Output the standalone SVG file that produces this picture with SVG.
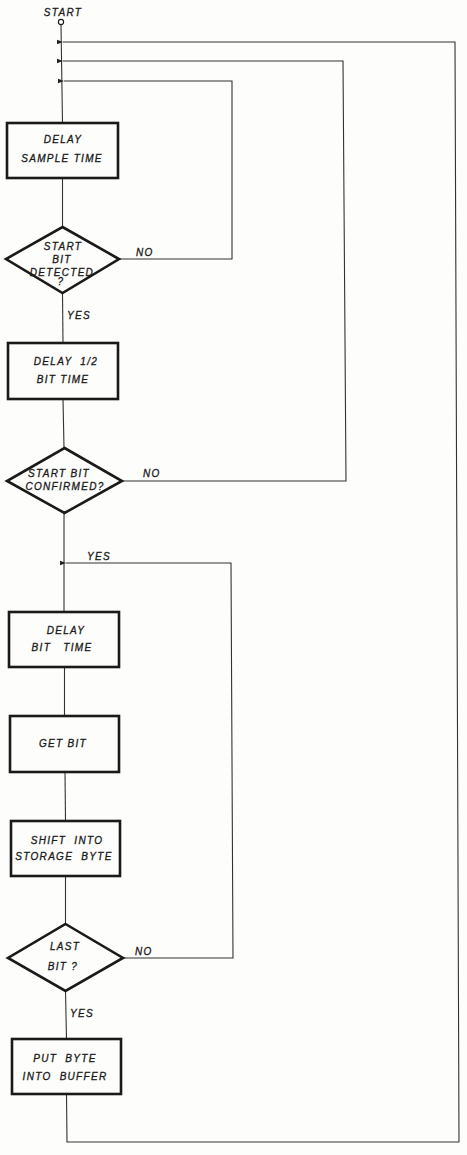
<svg xmlns="http://www.w3.org/2000/svg" width="467" height="1155" viewBox="0 0 467 1155">
<style>
.bg{fill:#fdfdfb}
.box{fill:none;stroke:#1a1a1a;stroke-width:2.6}
.ln{fill:none;stroke:#333;stroke-width:1.1}
text{font-family:"Liberation Sans",Arial,sans-serif;font-style:italic;font-size:10px;fill:#1a1a1a;stroke:#1a1a1a;stroke-width:0.3;letter-spacing:1.3px}
.c{text-anchor:middle}
</style>
<defs>
<marker id="ah" viewBox="0 0 6 6" refX="0" refY="3" markerWidth="6" markerHeight="6" orient="auto-start-reverse" markerUnits="userSpaceOnUse">
<path d="M0,3 L6,0.8 L6,5.2 Z" fill="#222"/>
</marker>
</defs>
<rect class="bg" x="0" y="0" width="467" height="1155"/>
<g id="connectors">
<path class="ln" d="M61,25 L62.5,123"/>
<path class="ln" d="M62.5,178 L62.5,227"/>
<path class="ln" d="M62.5,293 L63,343"/>
<path class="ln" d="M63,399 L64,448"/>
<path class="ln" d="M64,513 L64,612"/>
<path class="ln" d="M64.5,667 L64.5,716"/>
<path class="ln" d="M65,772 L65.5,821"/>
<path class="ln" d="M65.5,876 L65.5,924"/>
<path class="ln" d="M65.5,991 L66.5,1039"/>
<path class="ln" d="M119,259 L232,259 L232,81 L64,81" marker-end="url(#ah)"/>
<path class="ln" d="M122,481 L346,481 L343,61 L63,61" marker-end="url(#ah)"/>
<path class="ln" d="M123,958 L233,958 L231,563 L66,563" marker-end="url(#ah)"/>
<path class="ln" d="M66.5,1094 L67,1142 L459,1142 L455,42 L63,42" marker-end="url(#ah)"/>
<text x="136" y="256">NO</text>
<text x="67" y="319">YES</text>
<text x="143" y="477">NO</text>
<text x="87" y="560">YES</text>
<text x="135" y="955">NO</text>
<text x="70" y="1017">YES</text>
</g>
<g id="start">
<text class="c" x="63" y="16">START</text>
<circle cx="61" cy="22" r="2.6" fill="#fff" stroke="#1a1a1a" stroke-width="1.1"/>
</g>
<g id="delay-sample">
<rect class="box" x="7" y="123" width="111" height="55"/>
<text class="c" x="63" y="143">DELAY</text>
<text class="c" x="62" y="162">SAMPLE TIME</text>
</g>
<g id="start-bit-detected">
<polygon class="box" points="62.5,227 119,259 62.5,293 6,259"/>
<text class="c" x="63" y="250">START</text>
<text class="c" x="62" y="263">BIT</text>
<text class="c" x="62" y="276">DETECTED</text>
<text class="c" x="61" y="285">?</text>
</g>
<g id="delay-half-bit">
<rect class="box" x="8" y="343" width="110" height="56"/>
<text class="c" x="66" y="365" xml:space="preserve">DELAY  1/2</text>
<text class="c" x="63" y="383">BIT TIME</text>
</g>
<g id="start-bit-confirmed">
<polygon class="box" points="64.5,448 122,481 64.5,513 7,481"/>
<text class="c" x="59" y="477">START BIT</text>
<text class="c" x="65" y="490">CONFIRMED?</text>
</g>
<g id="delay-bit-time">
<rect class="box" x="9" y="612" width="110" height="55"/>
<text class="c" x="66" y="634">DELAY</text>
<text class="c" x="62" y="651" xml:space="preserve">BIT   TIME</text>
</g>
<g id="get-bit">
<rect class="box" x="10" y="716" width="109" height="56"/>
<text class="c" x="63" y="747">GET BIT</text>
</g>
<g id="shift-into-storage">
<rect class="box" x="11" y="821" width="109" height="55"/>
<text class="c" x="67" y="844" xml:space="preserve">SHIFT  INTO</text>
<text class="c" x="64" y="860" xml:space="preserve">STORAGE  BYTE</text>
</g>
<g id="last-bit">
<polygon class="box" points="65.5,924 123,958 65.5,991 8,958"/>
<text class="c" x="65" y="950">LAST</text>
<text class="c" x="63" y="970">BIT ?</text>
</g>
<g id="put-byte">
<rect class="box" x="12" y="1039" width="109" height="55"/>
<text class="c" x="65" y="1062" xml:space="preserve">PUT  BYTE</text>
<text class="c" x="65" y="1080" xml:space="preserve">INTO  BUFFER</text>
</g>
</svg>
